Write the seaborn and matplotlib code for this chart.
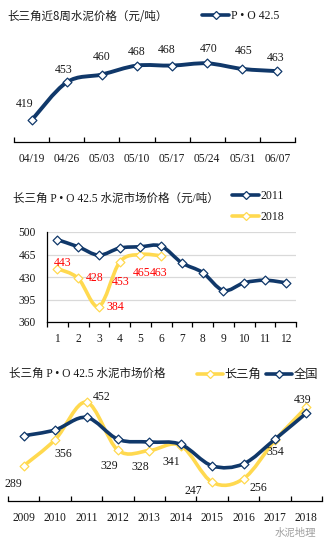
import numpy as np
import pandas as pd
import matplotlib
matplotlib.use("Agg")
import matplotlib.pyplot as plt
import seaborn as sns
from matplotlib.path import Path
from matplotlib.patches import PathPatch
from matplotlib.lines import Line2D

# ---------------- data ----------------
weeks = ["04/19", "04/26", "05/03", "05/10", "05/17", "05/24", "05/31", "06/07"]
week_prices = [419, 453, 460, 468, 468, 470, 465, 463]

months = ["1", "2", "3", "4", "5", "6", "7", "8", "9", "10", "11", "12"]
price_2011 = [488, 477, 464, 475, 477, 478, 452, 437, 409, 421, 425, 421]
price_2018 = [443, 428, 384, 453, 465, 463]
month_ticks = [360, 395, 430, 465, 500]

years = ["2009", "2010", "2011", "2012", "2013", "2014", "2015", "2016", "2017", "2018"]
yrd_prices = [289, 356, 452, 329, 328, 341, 247, 256, 354, 439]
national_prices = [366, 381, 413, 357, 350, 344, 289, 294, 357, 424]

NAVY = "#10386A"
YELLOW = "#FFD94F"
RED = "#FF0000"
TXT = "#1a1a1a"

sns.set_style("white")
plt.rcParams["font.family"] = ["Liberation Serif", "Noto Sans CJK SC", "DejaVu Sans"]
plt.rcParams["axes.unicode_minus"] = False

W, H = 324, 547
fig = plt.figure(figsize=(W / 100, H / 100), dpi=100)


def axrect(x0, y0, x1, y1):
    return [x0 / W, 1 - y1 / H, (x1 - x0) / W, (y1 - y0) / H]


def smooth_path(xs, ys):
    P = np.column_stack([xs, ys]).astype(float)
    n = len(P)
    verts = [P[0]]
    codes = [Path.MOVETO]
    for i in range(n - 1):
        p0 = P[i - 1] if i > 0 else P[i]
        p3 = P[i + 2] if i + 2 < n else P[i + 1]
        c1 = P[i] + (P[i + 1] - p0) / 6.0
        c2 = P[i + 1] - (p3 - P[i]) / 6.0
        verts += [c1, c2, P[i + 1]]
        codes += [Path.CURVE4] * 3
    return Path(verts, codes)


def draw_series(ax, x, y, color, lw=2.4, z=2):
    ax.add_patch(PathPatch(smooth_path(x, y), fill=False, edgecolor=color, lw=lw,
                           capstyle="round", joinstyle="round", zorder=z))
    df = pd.DataFrame({"x": x, "y": y})
    sns.scatterplot(data=df, x="x", y="y", marker="D", s=20, color="white",
                    edgecolor=color, linewidth=0.9, ax=ax, zorder=z + 0.5, legend=False)


def handle(color):
    return Line2D([], [], color=color, lw=2.6, marker="D", markersize=4.5,
                  markerfacecolor="white", markeredgecolor=color, markeredgewidth=0.9)


def cat_axis(ax, labels, direction, pad):
    n = len(labels)
    ax.set_xlim(-0.5, n - 0.5)
    ax.set_xticks(np.arange(-0.5, n, 1.0))
    ax.set_xticklabels([])
    ax.set_xticks(np.arange(n), minor=True)
    ax.set_xticklabels(labels, minor=True)
    ax.tick_params(axis="x", which="major", direction=direction, length=3.5, width=0.9,
                   color="black", bottom=True)
    ax.tick_params(axis="x", which="minor", length=0, pad=pad, labelsize=8.3,
                   labelcolor=TXT)
    ax.set_xlabel("")
    ax.set_ylabel("")


# ---------------- chart 1 ----------------
ax1 = fig.add_axes(axrect(14, 41, 295, 141.5))
x1 = np.arange(len(weeks))
draw_series(ax1, x1, week_prices, NAVY, lw=2.8)
ax1.set_ylim(400, 490)
cat_axis(ax1, weeks, "in", 8)
ax1.set_yticks([])
for s in ["top", "right", "left"]:
    ax1.spines[s].set_visible(False)
ax1.spines["bottom"].set_color("black")
ax1.spines["bottom"].set_linewidth(0.9)
off1 = [(-7, 16), (-3, 12), (0, 18), (0, 14), (-5, 16), (2, 14), (1, 18), (-2, 13)]
for xi, v, o in zip(x1, week_prices, off1):
    ax1.annotate(str(v), (xi, v), xytext=o, textcoords="offset pixels",
                 ha="center", va="center", fontsize=8.5, color=TXT)
fig.text(7 / W, 1 - 16 / H, "长三角近8周水泥价格（元/吨）", fontsize=8.3,
         ha="left", va="center", color=TXT, family=["Noto Sans CJK SC"])
fig.legend(handles=[handle(NAVY)], labels=["P • O 42.5"], loc="center left",
           bbox_to_anchor=(202 / W, 1 - 16 / H), frameon=False, borderpad=0,
           borderaxespad=0, handlelength=2.3, handletextpad=0.15, fontsize=8.5,
           labelcolor=TXT)

# ---------------- chart 2 ----------------
ax2 = fig.add_axes(axrect(47, 232, 296, 322))
x2 = np.arange(len(months))
draw_series(ax2, x2, price_2011, NAVY, lw=2.6, z=3)
draw_series(ax2, np.arange(len(price_2018)), price_2018, YELLOW, lw=2.6, z=2)
ax2.set_ylim(360, 500)
ax2.set_yticks(month_ticks)
ax2.set_yticklabels([str(t) for t in month_ticks])
ax2.tick_params(axis="y", length=0, pad=8, labelsize=8.3, labelcolor=TXT)
cat_axis(ax2, months, "out", 8)
ax2.yaxis.grid(True, color="#d9d9d9", lw=0.9)
ax2.set_axisbelow(True)
for s in ["top", "right"]:
    ax2.spines[s].set_visible(False)
for s in ["left", "bottom"]:
    ax2.spines[s].set_color("black")
    ax2.spines[s].set_linewidth(0.9)
off2 = [(5, 6), (17, 0), (16, 0), (1, -20), (1, -18), (-2, -17)]
for xi, v, o in zip(range(len(price_2018)), price_2018, off2):
    ax2.annotate(str(v), (xi, v), xytext=o, textcoords="offset pixels",
                 ha="center", va="center", fontsize=8.5, color=RED)
fig.text(13 / W, 1 - 199 / H, "长三角 P • O 42.5 水泥市场价格（元/吨）", fontsize=8.3,
         ha="left", va="center", color=TXT)
fig.legend(handles=[handle(NAVY), handle(YELLOW)], labels=["2011", "2018"],
           loc="center left", bbox_to_anchor=(232 / W, 1 - 206.5 / H), frameon=False,
           borderpad=0, borderaxespad=0, handlelength=2.3, handletextpad=0.1,
           labelspacing=0.75, fontsize=8.5, labelcolor=TXT)

# ---------------- chart 3 ----------------
ax3 = fig.add_axes(axrect(8, 383.5, 322, 500.5))
x3 = np.arange(len(years))
draw_series(ax3, x3, yrd_prices, YELLOW, lw=2.6, z=2)
draw_series(ax3, x3, national_prices, NAVY, lw=2.6, z=3)
ax3.set_ylim(200, 500)
ax3.set_yticks([])
cat_axis(ax3, years, "in", 8)
for s in ["top", "right", "left"]:
    ax3.spines[s].set_visible(False)
ax3.spines["bottom"].set_color("black")
ax3.spines["bottom"].set_linewidth(0.9)
off3 = [(-10, -18), (8, -14), (15, 5), (-9, -16), (-9, -16), (-9, -16),
        (-19, -9), (15, -9), (0, -12), (-4, 7)]
for xi, v, o in zip(x3, yrd_prices, off3):
    ax3.annotate(str(v), (xi, v), xytext=o, textcoords="offset pixels",
                 ha="center", va="center", fontsize=8.5, color=TXT)
fig.text(9 / W, 1 - 374 / H, "长三角 P • O 42.5 水泥市场价格", fontsize=8.3,
         ha="left", va="center", color=TXT)
fig.legend(handles=[handle(YELLOW), handle(NAVY)], labels=["长三角", "全国"],
           loc="center left", bbox_to_anchor=(197 / W, 1 - 375 / H), frameon=False,
           borderpad=0, borderaxespad=0, handlelength=2.1, handletextpad=0.15,
           columnspacing=0.4, ncol=2, fontsize=8.8, labelcolor=TXT)

fig.text(316 / W, 1 - 533 / H, "水泥地理", fontsize=7.5, ha="right", va="center",
         color="#a0a0a0", family=["Noto Sans CJK SC"])

fig.savefig("out.png", dpi=100)
